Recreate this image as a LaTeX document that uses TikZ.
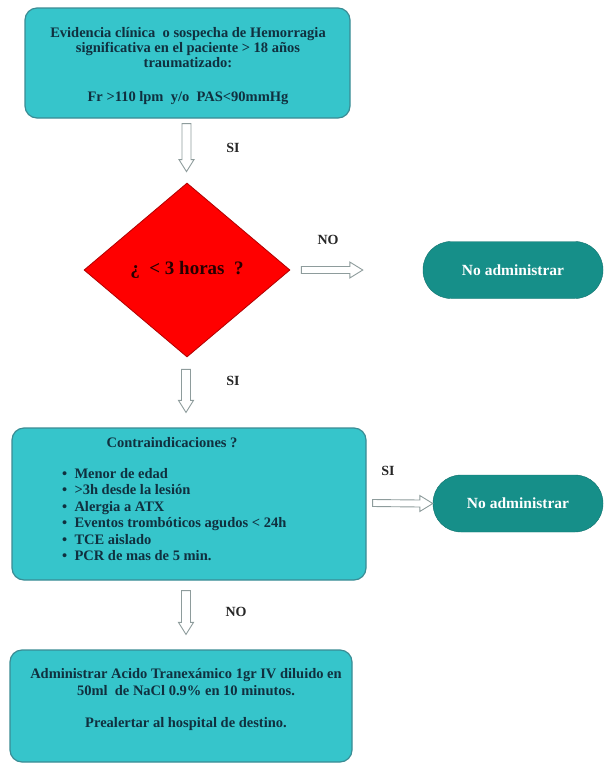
\documentclass[tikz,border=0pt]{standalone}
\usepackage{fontspec}
\setmainfont{Liberation Serif}
\usetikzlibrary{shapes.geometric,calc}
\definecolor{boxfill}{HTML}{36C5CB}
\definecolor{boxline}{HTML}{3A8C94}
\definecolor{boxtext}{HTML}{10303F}
\definecolor{pillfill}{HTML}{168F89}
\definecolor{arrline}{HTML}{8E9C9C}
\definecolor{dred}{HTML}{B00000}
\tikzset{
  mainbox/.style={draw=boxline, line width=1.2pt, fill=boxfill, rounded corners=12pt, text=boxtext, font=\bfseries\fontsize{14.5}{15}\selectfont},
  pill/.style={fill=pillfill, draw=pillfill!80!black, rounded corners=28pt, minimum width=#1, minimum height=57pt, text=white, font=\bfseries\fontsize{15.5}{15}\selectfont},
  decision/.style={diamond, fill=red, draw=dred, line width=0.8pt, minimum width=206pt, minimum height=174pt, inner sep=0pt, font=\bfseries\fontsize{19}{20}\selectfont, text=black!85!red},
  lbl/.style={font=\bfseries\fontsize{14}{14}\selectfont, text=black!85},
  harrow/.style={draw=arrline, fill=white, line width=0.9pt, line join=miter}
}
\newcommand{\hdown}[2]{%
  \draw[harrow] ($(#1)+(-4.5,0)$) -- ($(#2)+(-4.5,-12)$) -- ($(#2)+(-7.5,-12)$) -- (#2) -- ($(#2)+(7.5,-12)$) -- ($(#2)+(4.5,-12)$) -- ($(#1)+(4.5,0)$) -- cycle;}
\newcommand{\hright}[2]{%
  \draw[harrow] ($(#1)+(0,-3.5)$) -- ($(#2)+(-13,-3.5)$) -- ($(#2)+(-13,-8)$) -- (#2) -- ($(#2)+(-13,8)$) -- ($(#2)+(-13,3.5)$) -- ($(#1)+(0,3.5)$) -- cycle;}
\begin{document}
\begin{tikzpicture}[x=1pt,y=-1pt]
\useasboundingbox (0,0) rectangle (607,764);
% box 1
\node[mainbox, minimum width=325pt, minimum height=110pt] (b1) at (187.5,63) {};
\node[text=boxtext, font=\bfseries\fontsize{14.5}{15}\selectfont, align=center, anchor=north, inner sep=0pt] (t1) at (188,27)
  {Evidencia clínica\ \ o sospecha de Hemorragia\\ significativa en el paciente > 18 años\\ traumatizado:\\[19pt] Fr >110 lpm\ \ y/o\ \ PAS<90mmHg};
% diamond
\node[decision] (d) at (187,270) {¿\ \ < 3 horas\ \ ?};
% pill 1
\node[pill=180pt] (p1) at (513,270) {No administrar};
% box 2
\node[mainbox, minimum width=354pt, minimum height=152pt] (b2) at (189,504) {};
\node[font=\bfseries\fontsize{14.5}{15}\selectfont, text=boxtext] (t2) at (172,443) {Contraindicaciones ?};
\node[font=\bfseries\fontsize{14.5}{16.5}\selectfont, text=boxtext, align=left, anchor=north west, inner sep=0pt] (l2) at (62,468) {%
  •\ \ Menor de edad\\
  •\ \ >3h desde la lesión\\
  •\ \ Alergia a ATX\\
  •\ \ Eventos trombóticos agudos < 24h\\
  •\ \ TCE aislado\\
  •\ \ PCR de mas de 5 min.};
% pill 2
\node[pill=170pt] (p2) at (518,503.5) {No administrar};
% box 3
\node[mainbox, minimum width=342pt, minimum height=112pt] (b3) at (181,706) {};
\node[font=\bfseries\fontsize{14.5}{17.5}\selectfont, text=boxtext, align=center, anchor=north, inner sep=0pt] (t3) at (186,668)
  {Administrar Acido Tranexámico 1gr IV diluido en\\ 50ml\ \ de NaCl 0.9\% en 10 minutos.\\[14pt] Prealertar al hospital de destino.};
% arrows
\coordinate (a1s) at ($(b1.south)+(-1,5)$);
\coordinate (a1e) at ($(d.north)+(-0.5,-11)$);
\hdown{a1s}{a1e}
\node[lbl] (s1) at (233,148) {SI};
\coordinate (a2s) at ($(d.east)+(11,0)$);
\coordinate (a2e) at ($(p1.west)+(-60,0)$);
\hright{a2s}{a2e}
\node[lbl] (n1) at (328,240) {NO};
\coordinate (a3s) at ($(d.south)+(-1,12)$);
\coordinate (a3e) at ($(b2.north)+(-3,-15)$);
\hdown{a3s}{a3e}
\node[lbl] (s2) at (233,381) {SI};
\coordinate (a4s) at ($(b2.east)+(6,-1)$);
\coordinate (a4e) at ($(p2.west)+(0,0)$);
\hright{a4s}{a4e}
\node[lbl] (s3) at (388,471) {SI};
\coordinate (a5s) at ($(b2.south)+(-3,10)$);
\coordinate (a5e) at ($(b3.north)+(5,-15)$);
\hdown{a5s}{a5e}
\node[lbl] (n2) at (236,612) {NO};
\end{tikzpicture}
\end{document}
